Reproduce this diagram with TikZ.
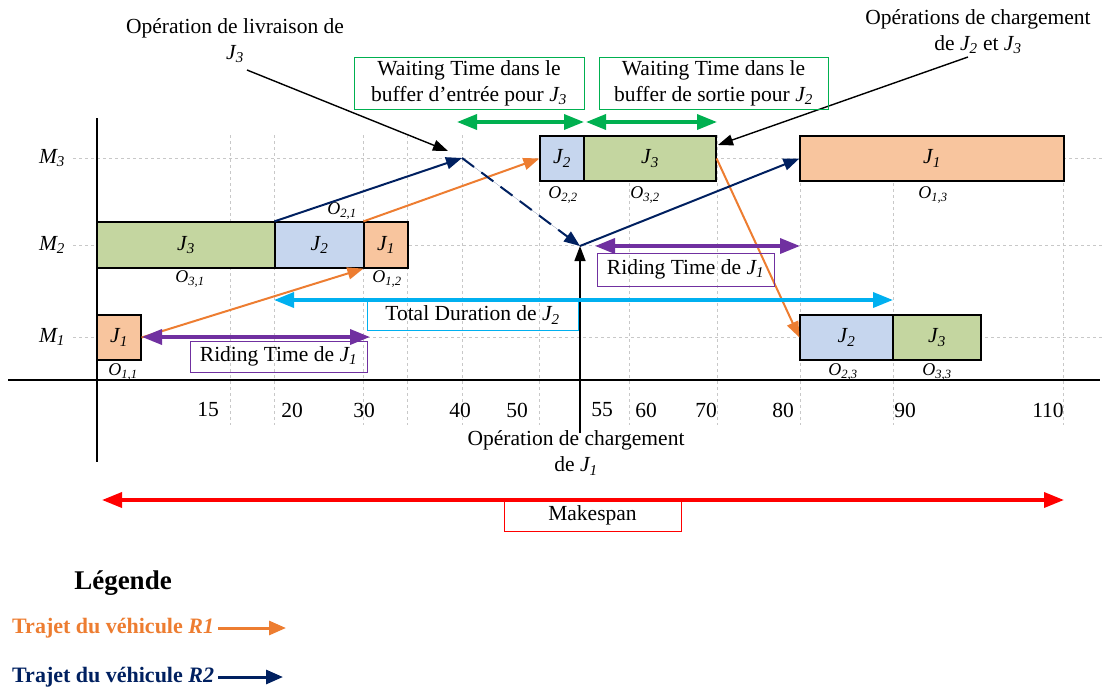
\documentclass[tikz,border=0pt]{standalone}
\usepackage{fontspec}
\setmainfont{Liberation Serif}
\usetikzlibrary{arrows.meta}
\definecolor{cOr}{HTML}{ED7D31}
\definecolor{cNv}{HTML}{002060}
\definecolor{cGr}{HTML}{00B050}
\definecolor{cPu}{HTML}{7030A0}
\definecolor{cCy}{HTML}{00B0F0}
\definecolor{cRd}{HTML}{FF0000}
\definecolor{fOr}{HTML}{F8C59E}
\definecolor{fBl}{HTML}{C6D6EE}
\definecolor{fGn}{HTML}{C4D6A0}
\definecolor{cGrid}{HTML}{C8C8C8}
\newcommand\Jx[1]{\textit{J\textsubscript{#1}}}
\newcommand\Ox[1]{\textit{O\textsubscript{#1}}}
\newcommand\Mx[1]{\textit{M\textsubscript{#1}}}
\newcommand\mainsize{\fontsize{21.5}{26}\selectfont}
\tikzset{
  gridline/.style={draw=cGrid, line width=0.7pt, dash pattern=on 3pt off 3pt},
  axisline/.style={draw=black, line width=1.3pt},
  job/.style={draw=black, line width=1.2pt, inner sep=0pt, font=\mainsize},
  olab/.style={inner sep=0pt, font=\fontsize{18}{20}\selectfont},
  txt/.style={inner sep=0pt, font=\mainsize, align=center},
  tbox/.style={line width=1pt, inner sep=0pt, font=\mainsize, align=center},
  veh/.style={line width=2pt, -{Triangle[length=16pt,width=12pt]}},
  blk/.style={draw=black, line width=1.4pt, -{Triangle[length=15pt,width=11pt]}},
  dbl/.style={line width=3.5pt, {Triangle[length=20pt,width=15pt]}-{Triangle[length=20pt,width=15pt]}},
}
\begin{document}
\begin{tikzpicture}[x=1pt,y=-1pt]
\useasboundingbox (0,0) rectangle (1104,688);
% grid
\foreach \x in {230,274,363,407,462,539,629,717,800,893,1063}
  \draw[gridline] (\x,135) -- (\x,425);
\foreach \y in {158,245,337}
  \draw[gridline] (73,\y) -- (1104,\y);
% axes
\draw[axisline] (97,118) -- (97,462);
\draw[axisline] (8,380) -- (1100,380);
% axis labels
\node[txt] (t15) at (208,410) {15};
\node[txt] (t20) at (292,410) {20};
\node[txt] (t30) at (364,410) {30};
\node[txt] (t40) at (460,410) {40};
\node[txt] (t50) at (517,410) {50};
\node[txt] (t55) at (602,410) {55};
\node[txt] (t60) at (646,410) {60};
\node[txt] (t70) at (706,410) {70};
\node[txt] (t80) at (783,410) {80};
\node[txt] (t90) at (905,410) {90};
\node[txt] (t110) at (1048,410) {110};
% machine labels
\node[txt] (m3) at (52,158) {\Mx{3}};
\node[txt] (m2) at (52,245) {\Mx{2}};
\node[txt] (m1) at (52,337) {\Mx{1}};
% job boxes
\node[job, fill=fBl, minimum width=44pt, minimum height=45pt] (b22) at (562,158.5) {\Jx{2}};
\node[job, fill=fGn, minimum width=132pt, minimum height=45pt] (b32) at (650,158.5) {\Jx{3}};
\node[job, fill=fOr, minimum width=264pt, minimum height=45pt] (b13) at (932,158.5) {\Jx{1}};
\node[job, fill=fGn, minimum width=178pt, minimum height=46pt] (b31) at (186,245) {\Jx{3}};
\node[job, fill=fBl, minimum width=89pt, minimum height=46pt] (b21) at (319.5,245) {\Jx{2}};
\node[job, fill=fOr, minimum width=44pt, minimum height=46pt] (b12) at (386,245) {\Jx{1}};
\node[job, fill=fOr, minimum width=44pt, minimum height=45pt] (b11) at (119,337.5) {\Jx{1}};
\node[job, fill=fBl, minimum width=93pt, minimum height=45pt] (b23) at (846.5,337.5) {\Jx{2}};
\node[job, fill=fGn, minimum width=88pt, minimum height=45pt] (b33) at (937,337.5) {\Jx{3}};
% operation labels
\node[olab] (o11) at (123,372) {\Ox{1,1}};
\node[olab] (o31) at (190,279) {\Ox{3,1}};
\node[olab] (o12) at (387,279) {\Ox{1,2}};
\node[olab] (o21) at (342,211) {\Ox{2,1}};
\node[olab] (o22) at (563,195) {\Ox{2,2}};
\node[olab] (o32) at (645,195) {\Ox{3,2}};
\node[olab] (o13) at (933,195) {\Ox{1,3}};
\node[olab] (o23) at (843,372) {\Ox{2,3}};
\node[olab] (o33) at (937,372) {\Ox{3,3}};
% coordinates for path ends
\coordinate (d3) at (462,158);
\coordinate (c1) at (580,246);
% vehicle R1 (orange)
\draw[veh, draw=cOr, fill=cOr] (b11.east) -- (b12.south west);
\draw[veh, draw=cOr, fill=cOr] (b12.north west) -- (b22.west);
\draw[veh, draw=cOr, fill=cOr] (b32.east) -- (b23.west);
% vehicle R2 (navy)
\draw[veh, draw=cNv, fill=cNv] (b21.north west) -- (d3);
\draw[veh, draw=cNv, fill=cNv, dash pattern=on 15pt off 9pt] (d3) -- (c1);
\draw[veh, draw=cNv, fill=cNv] (c1) -- (b13.west);
% annotations
\node[txt] (tliv) at (235,41) {Opération de livraison de\\\Jx{3}};
\coordinate (liv0) at (247,70);
\coordinate (liv1) at (448,151);
\draw[blk, fill=black] (liv0) -- (liv1);
\node[txt] (tchg) at (978,32) {Opérations de chargement\\de \Jx{2} et \Jx{3}};
\coordinate (chg0) at (968,57);
\coordinate (chg1) at (718,145);
\draw[blk, fill=black] (chg0) -- (chg1);
\node[txt] (tch1) at (576,453) {Opération de chargement\\de \Jx{1}};
\coordinate (ch10) at (580,433);
\draw[blk, fill=black] (ch10) -- (c1);
% waiting time boxes and arrows
\node[tbox, draw=cGr, minimum width=230pt, minimum height=52pt] (w1) at (469,83) {Waiting Time dans le\\buffer d’entrée pour \Jx{3}};
\node[tbox, draw=cGr, minimum width=229pt, minimum height=52pt] (w2) at (713.5,83) {Waiting Time dans le\\buffer de sortie pour \Jx{2}};
\coordinate (g1a) at (457,122);
\coordinate (g1b) at (584,122);
\coordinate (g2a) at (586,122);
\coordinate (g2b) at (717,122);
\draw[dbl, draw=cGr, fill=cGr] (g1a) -- (g1b);
\draw[dbl, draw=cGr, fill=cGr] (g2a) -- (g2b);
% riding time
\node[tbox, draw=cPu, minimum width=177pt, minimum height=31pt] (r1) at (278.5,356.5) {Riding Time de \Jx{1}};
\coordinate (p1a) at (142,337);
\coordinate (p1b) at (370,337);
\draw[dbl, draw=cPu, fill=cPu] (p1a) -- (p1b);
\node[tbox, draw=cPu, minimum width=177pt, minimum height=33pt] (r2) at (685.5,269.5) {Riding Time de \Jx{1}};
\coordinate (p2a) at (595,246);
\coordinate (p2b) at (800,246);
\draw[dbl, draw=cPu, fill=cPu] (p2a) -- (p2b);
% total duration
\node[tbox, draw=cCy, minimum width=211pt, minimum height=30pt] (td) at (472.5,315) {Total Duration de \Jx{2}};
\coordinate (cya) at (274,300);
\coordinate (cyb) at (893,300);
\draw[dbl, draw=cCy, fill=cCy] (cya) -- (cyb);
% makespan
\node[tbox, draw=cRd, minimum width=177pt, minimum height=31pt] (mk) at (592.5,515.5) {Makespan};
\coordinate (rda) at (102,500);
\coordinate (rdb) at (1064,500);
\draw[dbl, draw=cRd, fill=cRd] (rda) -- (rdb);
% legend
\node[txt, font=\fontsize{27}{30}\selectfont\bfseries] (leg) at (123,583) {Légende};
\node[txt, anchor=west, text=cOr, font=\fontsize{22}{25}\selectfont\bfseries] (lr1) at (12,628) {Trajet du véhicule \textit{R1}};
\node[txt, anchor=west, text=cNv, font=\fontsize{22}{25}\selectfont\bfseries] (lr2) at (12,677) {Trajet du véhicule \textit{R2}};
\coordinate (lr1e) at (286,628);
\coordinate (lr2e) at (283,677);
\draw[line width=3pt, draw=cOr, fill=cOr, -{Triangle[length=17pt,width=14pt]}] (lr1.east) ++(4,0) -- (lr1e);
\draw[line width=3pt, draw=cNv, fill=cNv, -{Triangle[length=17pt,width=14pt]}] (lr2.east) ++(4,0) -- (lr2e);
\end{tikzpicture}
\end{document}
